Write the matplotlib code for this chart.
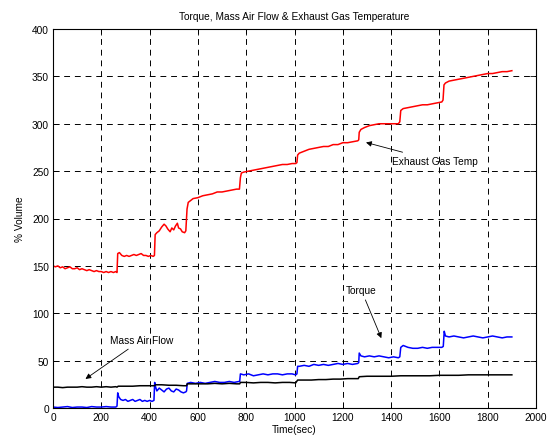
import matplotlib
matplotlib.use("Agg")
import matplotlib.pyplot as plt

plt.rcParams['font.family'] = ['Liberation Sans', 'DejaVu Sans']

# Exhaust gas temperature (time, value)
egt_t = [0, 10, 20, 30, 40, 50, 60, 70, 80, 90, 100, 110, 120, 130, 140, 150, 160, 170, 180, 190, 200,
         210, 220, 230, 240, 250, 260, 265, 268, 275, 285, 295, 305, 315, 325, 335, 345, 355, 365, 375,
         385, 395, 405, 415, 420, 423, 430, 440, 450, 460, 468, 475, 485, 492, 500, 507, 515, 520, 528,
         535, 545, 550, 555, 560, 570, 580, 600, 620, 640, 660, 680, 700, 720, 740, 760, 772, 776, 780,
         790, 810, 830, 850, 870, 890, 910, 930, 950, 970, 990, 1005, 1010, 1013, 1020, 1040, 1060, 1080,
         1100, 1120, 1140, 1160, 1180, 1200, 1220, 1240, 1262, 1266, 1268, 1275, 1290, 1310, 1330, 1350,
         1370, 1390, 1410, 1430, 1436, 1440, 1450, 1470, 1490, 1510, 1530, 1550, 1570, 1590, 1610, 1615,
         1619, 1625, 1640, 1660, 1680, 1700, 1720, 1740, 1760, 1780, 1800, 1820, 1840, 1860, 1880, 1900]
egt_v = [150, 149, 150, 148, 149, 147, 148, 149, 147, 147, 148, 146, 147, 146, 145, 146, 145, 144, 145, 144, 144,
         143, 144, 143, 144, 143, 144, 143, 163, 164, 161, 160, 161, 160, 161, 162, 161, 162, 163, 161,
         161, 160, 161, 160, 161, 183, 185, 187, 191, 194, 192, 189, 186, 190, 188, 192, 195, 190, 189,
         186, 185, 187, 210, 217, 219, 221, 222, 224, 225, 226, 228, 228, 229, 230, 231, 231, 243, 248,
         249, 250, 251, 252, 253, 254, 255, 256, 257, 257, 258, 258, 259, 267, 269, 271, 273, 274,
         275, 276, 276, 278, 278, 280, 280, 281, 282, 283, 291, 294, 296, 298, 299, 300,
         300, 300, 300, 300, 302, 314, 316, 317, 318, 319, 320, 320, 321, 322, 323, 325,
         341, 343, 345, 346, 347, 348, 349, 350, 351, 352, 353, 353, 354, 355, 355, 356]

# Torque
tq_t = [0, 20, 40, 60, 80, 100, 120, 140, 160, 180, 200, 220, 240, 260, 265, 268, 272, 280, 290, 300, 310,
        320, 330, 340, 350, 360, 370, 380, 390, 400, 410, 418, 421, 425, 430, 440, 450, 460, 470, 480, 490,
        500, 510, 520, 530, 540, 550, 553, 556, 570, 590, 610, 630, 650, 670, 690, 710, 730, 750, 770, 773,
        776, 790, 810, 830, 850, 870, 890, 910, 930, 950, 970, 990, 1005, 1010, 1013, 1020, 1040, 1060, 1080,
        1100, 1120, 1140, 1160, 1180, 1200, 1220, 1240, 1262, 1266, 1268, 1275, 1290, 1310, 1330, 1350, 1370,
        1390, 1410, 1430, 1436, 1440, 1450, 1470, 1490, 1510, 1530, 1550, 1570, 1590, 1610, 1616, 1620, 1625,
        1640, 1660, 1680, 1700, 1720, 1740, 1760, 1780, 1800, 1820, 1840, 1860, 1880, 1900]
tq_v = [1, 0.5, 1, 1.5, 0.5, 1, 1, 0.5, 1.5, 1, 1, 1.5, 1, 1, 2, 16, 12, 9, 8, 9, 7,
        8, 9, 7, 8, 9, 7, 8, 7, 8, 7, 8, 27, 22, 18, 21, 19, 17, 20, 21, 18,
        17, 20, 19, 17, 16, 17, 18, 26, 27, 26, 27, 26, 27, 28, 27, 27, 28, 27, 28, 28,
        36, 35, 36, 34, 35, 36, 35, 36, 36, 35, 36, 36, 35, 36, 44, 44, 45, 44, 46,
        45, 46, 45, 46, 47, 46, 47, 46, 47, 48, 58, 55, 54, 55, 54, 55, 54,
        53, 54, 53, 54, 64, 66, 64, 63, 63, 64, 63, 64, 64, 64, 65, 81, 76,
        75, 76, 75, 74, 75, 76, 75, 74, 75, 76, 75, 74, 75, 75]

# Mass air flow
maf_t = [0, 20, 40, 60, 80, 100, 120, 140, 160, 180, 200, 220, 240, 260, 265, 270, 300, 330, 360, 390, 420,
         425, 450, 480, 510, 540, 553, 556, 580, 610, 640, 670, 700, 730, 760, 773, 776, 800, 830, 860, 890,
         920, 950, 980, 1005, 1013, 1040, 1070, 1100, 1130, 1160, 1190, 1220, 1250, 1264, 1268, 1300, 1330,
         1360, 1400, 1440, 1480, 1520, 1560, 1600, 1640, 1680, 1720, 1760, 1800, 1840, 1880, 1900]
maf_v = [22, 22, 21.5, 22, 22, 22, 22.5, 22, 22, 22.5, 22, 22.5, 22, 22.5, 22, 23, 23, 23, 23.5, 23.5, 23.5,
         24.5, 24.5, 24, 24, 23.5, 23.5, 25.5, 25.5, 25.5, 25.5, 26, 25.5, 26, 25.5, 25.5, 27, 27, 26.5, 27, 27,
         26.5, 27, 27, 26.5, 29.5, 29.5, 29.5, 30, 30, 30.5, 30.5, 31, 31, 31, 33, 33.5, 33.5,
         33.5, 33.5, 34, 34, 34, 34, 34.5, 34.5, 34.5, 35, 35, 35, 35, 35, 35]

title = "Torque, Mass Air Flow & Exhaust Gas Temperature"
xticks = list(range(0, 2001, 200))
yticks = list(range(0, 401, 50))

fig = plt.figure(figsize=(5.52, 4.39), dpi=100)
ax = fig.add_axes([53/552, 30/439, 483/552, 379/439])

ax.plot(egt_t, egt_v, color='red', lw=1.1)
ax.plot(tq_t, tq_v, color='blue', lw=1.1)
ax.plot(maf_t, maf_v, color='black', lw=1.1)

ax.set_xlim(0, 2000)
ax.set_ylim(0, 400)
ax.set_xticks(xticks)
ax.set_yticks(yticks)
ax.tick_params(direction='in', top=True, right=True, labelsize=7.3, length=4, width=0.6, pad=3)
ax.grid(True, color='black', linestyle=(0, (6, 5)), lw=0.7)
for s in ax.spines.values():
    s.set_linewidth(0.8)

ax.set_title(title, fontsize=7.3, pad=7)
ax.set_xlabel("Time(sec)", fontsize=7.3, labelpad=1)
ax.set_ylabel("% Volume", fontsize=7.3, labelpad=5)

ap = dict(arrowstyle='-|>', color='black', lw=0.6, mutation_scale=8)
ax.annotate("Exhaust Gas Temp", xy=(1285, 281), xytext=(1402, 261), fontsize=7.3,
            ha='left', va='center', arrowprops=ap)
ax.annotate("Torque", xy=(1364, 71), xytext=(1212, 125), fontsize=7.3,
            ha='left', va='center', arrowprops=ap)
ax.annotate("Mass Air Flow", xy=(125, 29), xytext=(236, 72), fontsize=7.3,
            ha='left', va='center', arrowprops=ap)

fig.savefig("out.png", dpi=100)
